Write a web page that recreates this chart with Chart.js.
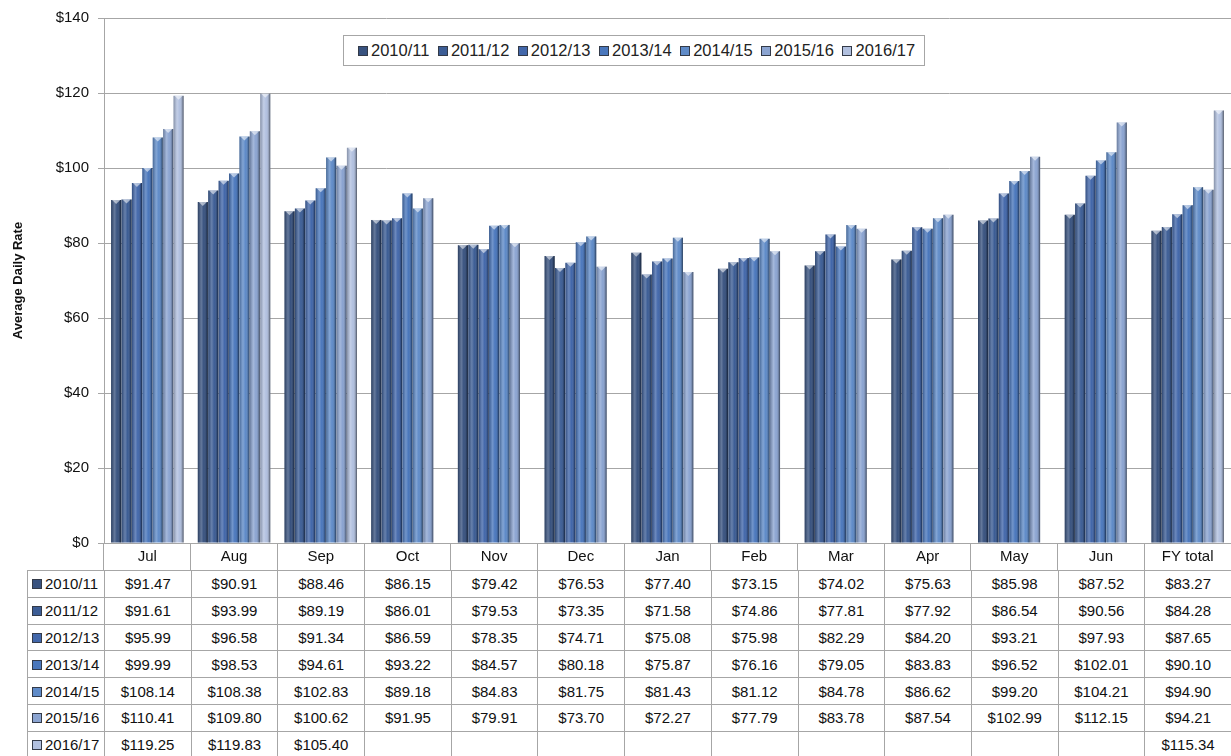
<!DOCTYPE html>
<html>
<head>
<meta charset="utf-8">
<title>Average Daily Rate</title>
<script src="https://cdn.jsdelivr.net/npm/chart.js@4.4.1/dist/chart.umd.min.js"></script>
<style>
    body { margin: 0; background: #fff; font-family: "Liberation Sans", Arial, sans-serif; }
    .wrap { position: relative; width: 1231px; height: 756px; overflow: hidden; }
    #myChart { position: absolute; left: 0; top: 0; }
    .legend {
        position: absolute; left: 343px; top: 35px; height: 31px;
        border: 1px solid #a6a6a6; background: #fff;
        display: flex; align-items: center; padding: 0 0 0 14px; box-sizing: border-box;
        font-size: 16.5px; color: #222;
    }
    .legend__item { display: flex; align-items: center; margin-right: 8.5px; }
    .swatch {
        display: inline-block; width: 8px; height: 8px; margin-right: 3px;
        border: 1px solid #333a48;
    }
    .grid {
        position: absolute; left: 27px; top: 570px;
        border-collapse: collapse; table-layout: fixed;
        font-size: 15px; color: #111;
    }
    .grid td { border: 1px solid #a6a6a6; height: 25.8px; padding: 0; text-align: center; white-space: nowrap; }
    .grid td.grid__name { text-align: left; padding-left: 4px; }
</style>
</head>
<body>
<div class="wrap">
    <canvas id="myChart" width="1231" height="570"></canvas>
    <div class="legend" id="legend"></div>
    <table class="grid" id="grid"></table>
</div>
<script>
const months = ['Jul', 'Aug', 'Sep', 'Oct', 'Nov', 'Dec', 'Jan', 'Feb', 'Mar', 'Apr', 'May', 'Jun', 'FY total'];
const seasons = ['2010/11', '2011/12', '2012/13', '2013/14', '2014/15', '2015/16', '2016/17'];

const rate1011 = [91.47, 90.91, 88.46, 86.15, 79.42, 76.53, 77.40, 73.15, 74.02, 75.63, 85.98, 87.52, 83.27];
const rate1112 = [91.61, 93.99, 89.19, 86.01, 79.53, 73.35, 71.58, 74.86, 77.81, 77.92, 86.54, 90.56, 84.28];
const rate1213 = [95.99, 96.58, 91.34, 86.59, 78.35, 74.71, 75.08, 75.98, 82.29, 84.20, 93.21, 97.93, 87.65];
const rate1314 = [99.99, 98.53, 94.61, 93.22, 84.57, 80.18, 75.87, 76.16, 79.05, 83.83, 96.52, 102.01, 90.10];
const rate1415 = [108.14, 108.38, 102.83, 89.18, 84.83, 81.75, 81.43, 81.12, 84.78, 86.62, 99.20, 104.21, 94.90];
const rate1516 = [110.41, 109.80, 100.62, 91.95, 79.91, 73.70, 72.27, 77.79, 83.78, 87.54, 102.99, 112.15, 94.21];
const rate1617 = [119.25, 119.83, 105.40, null, null, null, null, null, null, null, null, null, 115.34];

const yTicks = [0, 20, 40, 60, 80, 100, 120, 140];

const rates = [rate1011, rate1112, rate1213, rate1314, rate1415, rate1516, rate1617];
const colors = ['#38527f', '#3c5d95', '#4267aa', '#4a77bc', '#5f8bc8', '#8ba4d1', '#b1c0df'];

let ctx = document.getElementById('myChart');
let legendBox = document.getElementById('legend');
let grid = document.getElementById('grid');

function money(v) {
    return '$' + v.toFixed(2);
}

// rounded "tube" look on every bar plus a light bevel on top
const barShade = {
    id: 'barShade',
    afterDatasetsDraw(chart) {
        const c = chart.ctx;
        chart.data.datasets.forEach((ds, i) => {
            const meta = chart.getDatasetMeta(i);
            meta.data.forEach((bar, j) => {
                if (ds.data[j] === null) return;
                const p = bar.getProps(['x', 'y', 'base', 'width'], true);
                const l = p.x - p.width / 2;
                const g = c.createLinearGradient(l, 0, l + p.width, 0);
                g.addColorStop(0, 'rgba(0,0,0,0.25)');
                g.addColorStop(0.35, 'rgba(255,255,255,0.22)');
                g.addColorStop(0.6, 'rgba(255,255,255,0)');
                g.addColorStop(0.85, 'rgba(0,0,0,0.2)');
                g.addColorStop(1, 'rgba(0,0,0,0.55)');
                c.save();
                c.fillStyle = g;
                c.fillRect(l, p.y, p.width, p.base - p.y);
                c.fillStyle = 'rgba(255,255,255,0.55)';
                c.beginPath();
                c.moveTo(l + 1, p.y);
                c.lineTo(l + p.width - 1, p.y);
                c.lineTo(p.x, p.y + 4);
                c.closePath();
                c.fill();
                c.restore();
            });
        });
    }
};

function createLegend() {
    seasons.forEach((name, i) => {
        const item = document.createElement('span');
        item.classList.add('legend__item');
        item.innerHTML = `<span class="swatch" style="background:${colors[i]}"></span>${name}`;
        legendBox.appendChild(item);
    });
}

function createTable(chart) {
    const area = chart.chartArea;
    const step = (area.right - area.left) / months.length;
    let html = `<colgroup><col style="width:${area.left - 27}px">`;
    months.forEach(() => html += `<col style="width:${step}px">`);
    html += '</colgroup>';
    seasons.forEach((name, i) => {
        html += `<tr><td class="grid__name"><span class="swatch" style="background:${colors[i]}"></span>${name}</td>`;
        rates[i].forEach(v => html += `<td>${v === null ? '' : money(v)}</td>`);
        html += '</tr>';
    });
    grid.innerHTML = html;
    grid.style.width = (area.right - 27) + 'px';
}

const chart = new Chart(ctx, {
    type: 'bar',
    data: {
        labels: months,
        datasets: seasons.map((name, i) => ({
            label: name,
            data: rates[i],
            backgroundColor: colors[i],
            borderWidth: 0,
            categoryPercentage: 0.84,
            barPercentage: 0.97
        }))
    },
    plugins: [barShade],
    options: {
        responsive: false,
        animation: false,
        layout: { padding: { top: 17, left: 0, right: 0, bottom: 0 } },
        plugins: {
            legend: { display: false },
            tooltip: { enabled: false }
        },
        scales: {
            x: {
                afterFit(scale) { scale.height = 27; },
                grid: {
                    offset: true,
                    drawOnChartArea: false,
                    tickLength: 27,
                    color: '#a6a6a6'
                },
                border: { color: '#a6a6a6' },
                ticks: {
                    padding: -22,
                    color: '#111',
                    font: { family: 'Liberation Sans', size: 15 }
                }
            },
            y: {
                min: 0,
                max: 140,
                afterFit(scale) { scale.width = 104; },
                afterBuildTicks(scale) { scale.ticks = yTicks.map(v => ({ value: v })); },
                grid: { color: '#a6a6a6', tickLength: 6 },
                border: { color: '#a6a6a6' },
                ticks: {
                    padding: 9,
                    color: '#111',
                    font: { family: 'Liberation Sans', size: 15 },
                    callback: v => '$' + v
                },
                title: {
                    display: true,
                    text: 'Average Daily Rate',
                    color: '#111',
                    padding: { top: 11, bottom: 0 },
                    font: { family: 'Liberation Sans', size: 13, weight: 'bold' }
                }
            }
        }
    }
});

createLegend();
createTable(chart);
</script>
</body>
</html>
